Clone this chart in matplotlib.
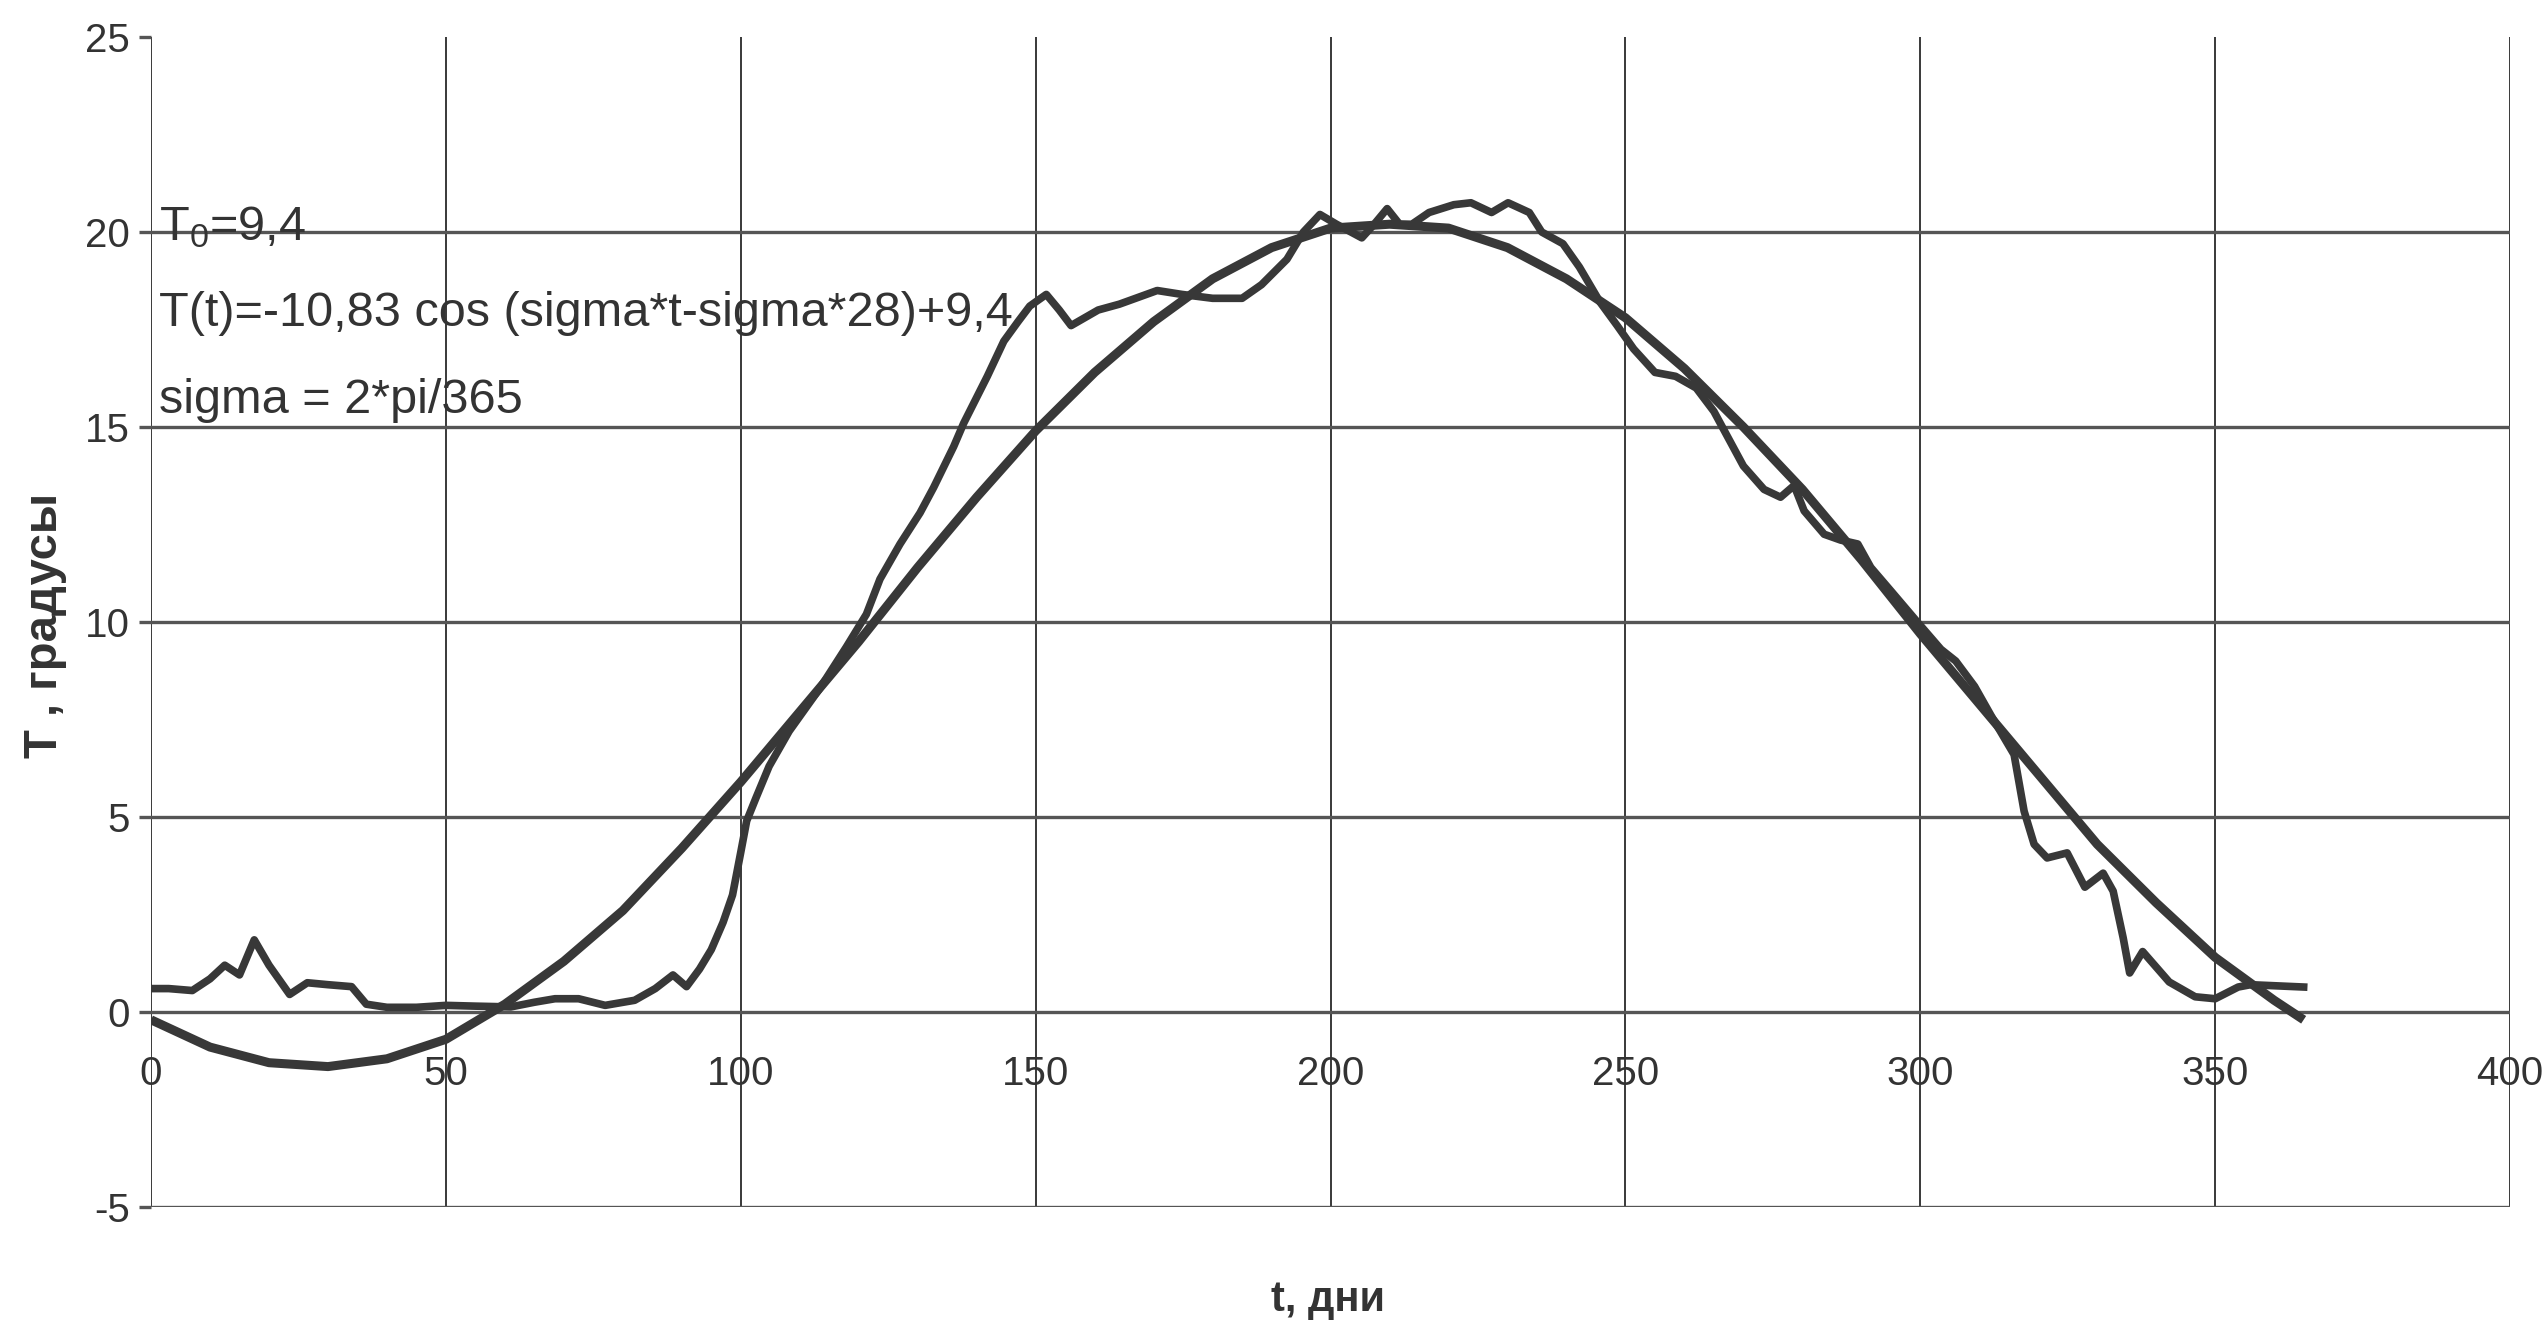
import matplotlib
matplotlib.use("Agg")
import matplotlib.pyplot as plt

obs_t = [0, 3, 7, 10, 12.5, 15, 17.5, 20, 23.5, 26.5, 30, 34, 36.5, 40, 45, 50, 55, 61,
         65, 68.5, 72.5, 77, 82, 85.5, 88.5, 90.8, 93, 95, 97, 98.6, 100, 101, 102.6,
         104.8, 108.2, 113.4, 117.9, 121.3, 123.6, 127, 130.4, 132.7, 136.1, 137.8,
         141.8, 144.6, 147, 149, 151.8, 154, 156, 160.6, 164.2, 170.6, 174.8, 180, 185,
         188.3, 192.6, 195.4, 198.2, 201, 205.3, 207.4, 209.6, 211.7, 213.8, 216.7,
         220.9, 223.8, 227.3, 230.1, 233.7, 235.8, 239.4, 242.2, 245.7, 248.6, 251.4,
         255, 258.5, 262, 265, 267.5, 270, 273.5, 276.3, 278.6, 280.3, 283.7, 286.5,
         289.4, 291.6, 295, 299.5, 303.5, 306, 309.2, 312, 315.9, 317.6, 319.3, 321.5,
         324.9, 327.9, 331, 332.7, 334.4, 335.5, 337.7, 342.2, 346.6, 350, 353.9, 356, 365]
obs_T = [0.6, 0.6, 0.55, 0.85, 1.2, 0.95, 1.85, 1.2, 0.45, 0.75, 0.7, 0.65, 0.2, 0.12, 0.12,
         0.17, 0.15, 0.13, 0.25, 0.34, 0.34, 0.17, 0.3, 0.6, 0.95, 0.65, 1.1, 1.6, 2.3, 3.0,
         4.1, 4.9, 5.5, 6.3, 7.2, 8.3, 9.36, 10.2, 11.1, 12.0, 12.8, 13.45, 14.5, 15.1, 16.3,
         17.2, 17.7, 18.1, 18.4, 18.0, 17.6, 18.0, 18.15, 18.5, 18.4, 18.3, 18.3, 18.65,
         19.3, 20.0, 20.45, 20.2, 19.85, 20.2, 20.6, 20.2, 20.2, 20.5, 20.7, 20.75, 20.5,
         20.75, 20.5, 20.0, 19.7, 19.1, 18.2, 17.6, 17.0, 16.4, 16.3, 16.0, 15.4, 14.7,
         14.0, 13.4, 13.2, 13.5, 12.85, 12.25, 12.1, 12.0, 11.4, 10.8, 10.0, 9.3, 9.0,
         8.35, 7.6, 6.6, 5.15, 4.3, 3.95, 4.08, 3.2, 3.56, 3.1, 1.9, 1.0, 1.55, 0.77, 0.39,
         0.34, 0.64, 0.7, 0.64]

# Fitted cosine curve
model_t = [0, 10, 20, 30, 40, 50, 60, 70, 80, 90, 100, 110, 120, 130, 140, 150, 160, 170,
           180, 190, 200, 210, 220, 230, 240, 250, 260, 270, 280, 290, 300, 310, 320, 330,
           340, 350, 360, 365]
model_T = [-0.2, -0.9, -1.3, -1.4, -1.2, -0.7, 0.2, 1.3, 2.6, 4.2, 5.9, 7.7, 9.5, 11.4,
           13.2, 14.9, 16.4, 17.7, 18.8, 19.6, 20.1, 20.2, 20.1, 19.6, 18.8, 17.8, 16.5,
           15.0, 13.4, 11.6, 9.7, 7.9, 6.1, 4.3, 2.8, 1.4, 0.3, -0.2]

x_ticks = [0, 50, 100, 150, 200, 250, 300, 350, 400]
y_ticks = [-5, 0, 5, 10, 15, 20, 25]

notes = ["T$_0$=9,4",
         "T(t)=-10,83 cos (sigma*t-sigma*28)+9,4",
         "sigma = 2*pi/365"]
note_y = [20.13, 17.92, 15.69]


def main():
    plt.rcParams["font.family"] = ["Liberation Sans", "DejaVu Sans"]
    plt.rcParams["mathtext.fontset"] = "custom"
    plt.rcParams["mathtext.rm"] = "Liberation Sans"
    plt.rcParams["mathtext.default"] = "rm"
    plt.rcParams["axes.unicode_minus"] = False

    ink = "#383838"
    fig = plt.figure(figsize=(25.47, 13.22), dpi=100)
    ax = fig.add_axes([0.0593, 0.087, 0.9262, 0.885])

    ax.plot(model_t, model_T, color=ink, lw=6.5, solid_capstyle="butt", zorder=3)
    ax.plot(obs_t, obs_T, color=ink, lw=5.5, solid_joinstyle="round", zorder=4)

    ax.set_xlim(0, 400)
    ax.set_ylim(-5, 25)
    ax.set_xticks(x_ticks)
    ax.set_yticks(y_ticks)

    # grid: heavy horizontal lines, thin vertical ones
    ax.yaxis.grid(True, color="#555555", lw=2.4)
    ax.xaxis.grid(True, color="#2a2a2a", lw=1.3)
    ax.yaxis.get_gridlines()[-1].set_visible(False)
    ax.set_axisbelow(True)

    for side in ["top", "right", "left"]:
        ax.spines[side].set_visible(False)
    ax.spines["bottom"].set_position(("data", 0))
    ax.spines["bottom"].set_linewidth(0)

    ax.tick_params(axis="x", length=0, pad=31, labelsize=29, labelcolor="#333333")
    ax.tick_params(axis="y", length=9, width=2.4, color="#555555", pad=6,
                   labelsize=29, labelcolor="#333333")

    for txt, yv in zip(notes, note_y):
        ax.text(1.4, yv, txt, fontsize=35, color="#333333",
                ha="left", va="center", zorder=5)

    fig.text(0.0177, 0.527, "T , градусы", rotation=90, fontsize=34, fontweight="bold",
             color="#333333", ha="center", va="center")
    fig.text(0.5214, 0.0166, "t, дни", fontsize=30, fontweight="bold",
             color="#333333", ha="center", va="center")

    fig.savefig("out.png", dpi=100, facecolor="white")


if __name__ == "__main__":
    main()
